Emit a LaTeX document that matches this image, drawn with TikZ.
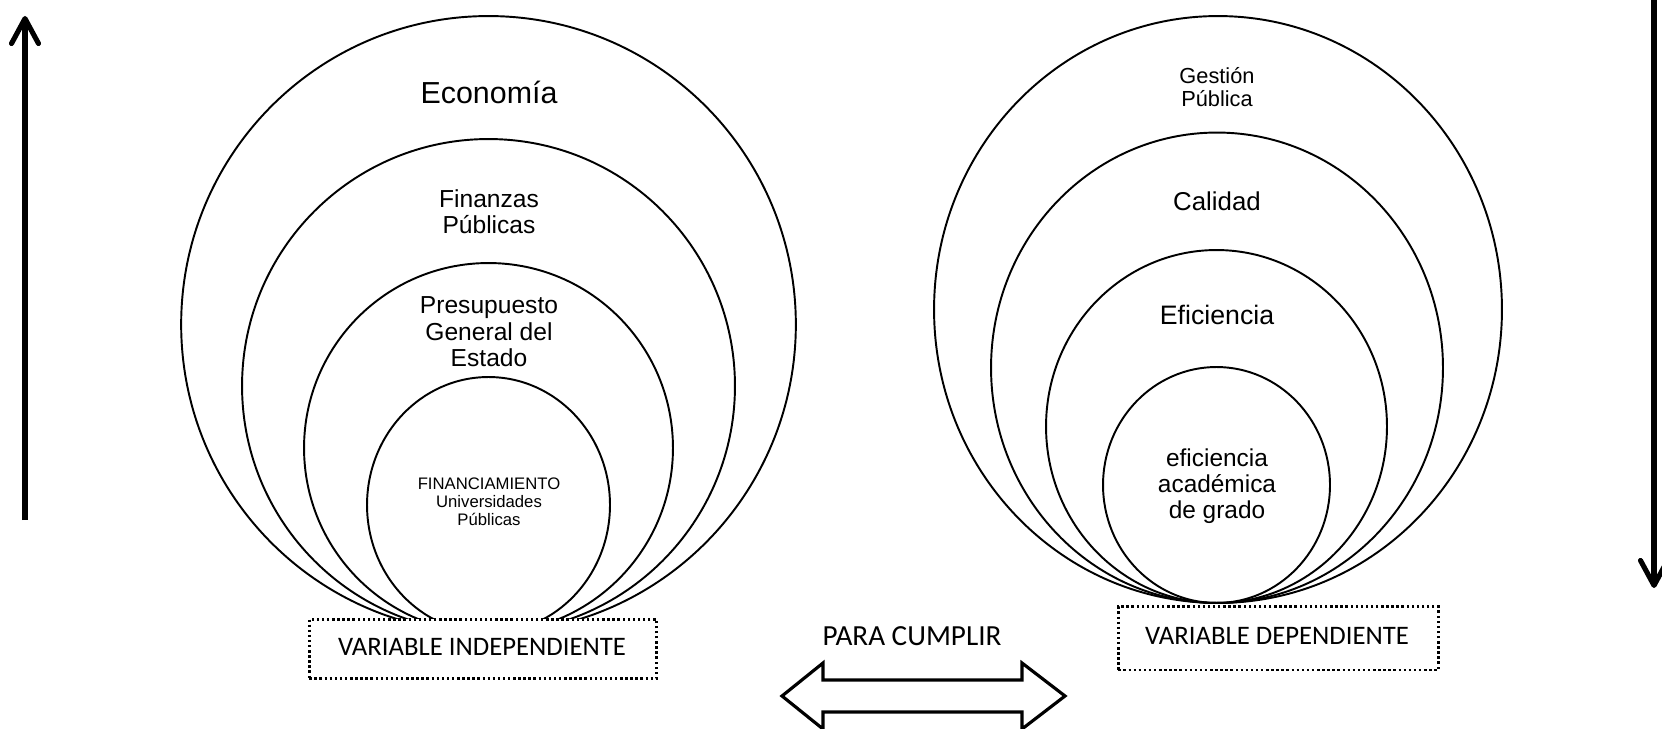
\documentclass[tikz,border=0pt]{standalone}
\usepackage{fontspec}
\setmainfont{Liberation Sans}
\newfontfamily\carlito{Carlito}
\usetikzlibrary{arrows.meta}
\begin{document}
\begin{tikzpicture}[x=0.02cm,y=-0.02cm,
  ring/.style={draw=black,line width=1.1pt},
  lbl/.style={align=center,inner sep=0pt,text=black},
  varbox/.style={draw=black,line width=1.4pt,dash pattern=on 1.4pt off 1.5pt,fill=white,inner sep=0pt},
  vtxt/.style={font=\carlito\fontsize{15.2}{17}\selectfont,inner sep=0pt},
  bigarrow/.style={line width=2.9pt,-{Straight Barb[length=0.5cm,width=0.54cm,round]}}
]
\useasboundingbox (0,0) rectangle (1662,729);

% left rings
\draw[ring] (488.5,324.5) ellipse [x radius=6.148cm, y radius=6.17cm];
\draw[ring] (488.5,386) ellipse [x radius=4.93cm, y radius=4.94cm];
\draw[ring] (488.5,448) ellipse [x radius=3.69cm, y radius=3.70cm];
\draw[ring] (488.5,505) ellipse [x radius=2.43cm, y radius=2.56cm];

% right rings
\draw[ring] (1218,309.5) ellipse [x radius=5.68cm, y radius=5.87cm];
\draw[ring] (1217,367.75) ellipse [x radius=4.52cm, y radius=4.705cm];
\draw[ring] (1216.5,426.5) ellipse [x radius=3.41cm, y radius=3.53cm];
\draw[ring] (1216.5,485) ellipse [x radius=2.27cm, y radius=2.36cm];

% left labels
\node[lbl,font=\fontsize{17.3}{20}\selectfont] (eco) at (489,92) {Econom\'ia};
\node[lbl,font=\fontsize{14}{15}\selectfont] (fin) at (489,212) {Finanzas\\P\'ublicas};
\node[lbl,font=\fontsize{14}{15}\selectfont] (pre) at (489,332) {Presupuesto\\General del\\Estado};
\node[lbl,font=\fontsize{9.5}{10.2}\selectfont] (fu) at (489,502) {FINANCIAMIENTO\\Universidades\\P\'ublicas};

% right labels
\node[lbl,font=\fontsize{12.4}{13.2}\selectfont] (ges) at (1217,87) {Gesti\'on\\P\'ublica};
\node[lbl,font=\fontsize{14.7}{16}\selectfont] (cal) at (1217,201) {Calidad};
\node[lbl,font=\fontsize{15.2}{17}\selectfont] (efi) at (1217,315) {Eficiencia};
\node[lbl,font=\fontsize{13.9}{14.7}\selectfont] (ead) at (1217,486) {eficiencia\\acad\'emica\\de grado};

% variable boxes
\node[varbox,minimum width=6.95cm,minimum height=1.18cm] (vi) at (483,648.8) {};
\node[vtxt] (vit) at (482,647) {VARIABLE INDEPENDIENTE};
\node[varbox,minimum width=6.4cm,minimum height=1.27cm] (vd) at (1278.3,638.3) {};
\node[vtxt] (vdt) at (1277,636) {VARIABLE DEPENDIENTE};

% para cumplir
\node[vtxt,font=\carlito\fontsize{16.6}{19}\selectfont] (pc) at (912,636) {PARA CUMPLIR};
\draw[line width=1.8pt,line join=miter]
  (782,696) -- (823,663) -- (823,680) -- (1022,680) -- (1022,663) -- (1065,696)
  -- (1022,729) -- (1022,712) -- (823,712) -- (823,729) -- cycle;

% vertical arrows
\coordinate (la1) at (25,520);
\coordinate (la2) at (25,16);
\draw[bigarrow] (la1) -- (la2);
\coordinate (ra1) at (1654,0);
\coordinate (ra2) at (1654,588);
\draw[bigarrow] (ra1) -- (ra2);
\end{tikzpicture}
\end{document}
